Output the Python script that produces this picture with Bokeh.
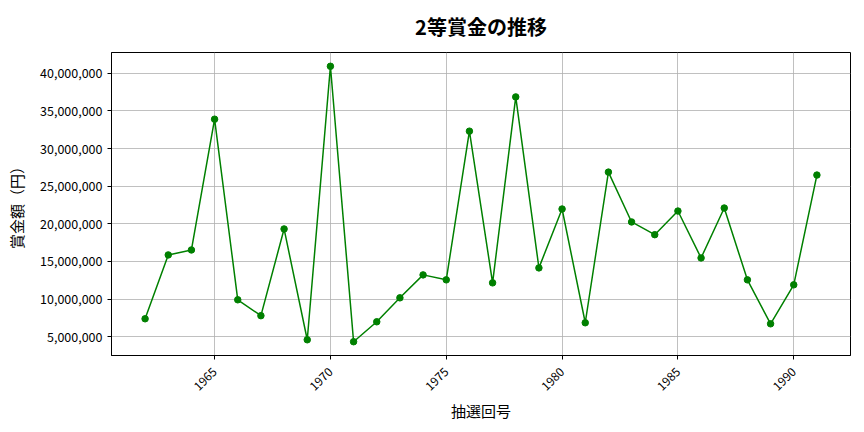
import math
from bokeh.plotting import figure
from bokeh.models import NumeralTickFormatter, FixedTicker, Range1d
from bokeh.embed import file_html
from bokeh.resources import INLINE

years = list(range(1962, 1992))
prizes = [7.39, 15.87, 16.53, 33.9, 9.91, 7.8, 19.32, 4.6, 40.93, 4.34,
          6.99, 10.17, 13.22, 12.56, 32.31, 12.16, 36.86, 14.15, 21.97, 6.86,
          26.87, 20.25, 18.56, 21.7, 15.47, 22.1, 12.56, 6.72, 11.9, 26.48]
prizes = [v * 1_000_000 for v in prizes]
x_ticks = [1965, 1970, 1975, 1980, 1985, 1990]
y_ticks = [5_000_000 * i for i in range(1, 9)]

FONT = "Noto Sans CJK JP"

xmin, xmax = min(years), max(years)
ymin, ymax = min(prizes), max(prizes)
xm = (xmax - xmin) * 0.05
ym = (ymax - ymin) * 0.05

p = figure(width=856, height=424, output_backend="svg", toolbar_location=None,
           x_range=Range1d(xmin - xm, xmax + xm), y_range=Range1d(ymin - ym, ymax + ym),
           title="2等賞金の推移")
p.min_border_left = 111
p.min_border_right = 6
p.min_border_top = 52
p.min_border_bottom = 69

p.title.align = "center"
p.title.vertical_align = "top"
p.title.text_font = FONT
p.title.text_font_size = "20px"
p.title.text_font_style = "bold"
p.title.text_color = "#000000"
p.title.standoff = 20

p.line(years, prizes, line_color="#008000", line_width=1.5)
p.scatter(years, prizes, size=6.5, fill_color="#008000", line_color="#008000")

p.xaxis.ticker = FixedTicker(ticks=x_ticks)
p.yaxis.ticker = FixedTicker(ticks=y_ticks)
p.yaxis.formatter = NumeralTickFormatter(format="0,0")
p.xaxis.major_label_orientation = math.pi / 4
p.xaxis.axis_label = "抽選回号"
p.yaxis.axis_label = "賞金額（円）"
for ax in (p.xaxis, p.yaxis):
    ax.axis_label_text_font = FONT
    ax.axis_label_text_font_size = "15px"
    ax.axis_label_text_font_style = "normal"
    ax.axis_label_text_color = "#000000"
    ax.major_label_text_font = FONT
    ax.major_label_text_font_size = "12px"
    ax.major_label_text_color = "#000000"
    ax.minor_tick_line_color = None
    ax.major_tick_in = 0
    ax.major_tick_out = 4
    ax.axis_line_color = "#000000"
    ax.major_tick_line_color = "#000000"
p.yaxis.major_label_text_font_size = "12.5px"
p.yaxis.axis_label_standoff = 10
p.xaxis.major_label_text_align = "center"
p.xaxis.major_label_text_baseline = "middle"
p.xaxis.major_label_standoff = 10
p.xaxis.axis_label_standoff = 2

p.outline_line_color = "#000000"
p.outline_line_alpha = 1.0
p.outline_line_width = 1
p.grid.grid_line_color = "#b0b0b0"
p.grid.grid_line_width = 0.8
p.background_fill_color = "white"
p.border_fill_color = "white"

open("out.html", "w").write(file_html(p, INLINE))
